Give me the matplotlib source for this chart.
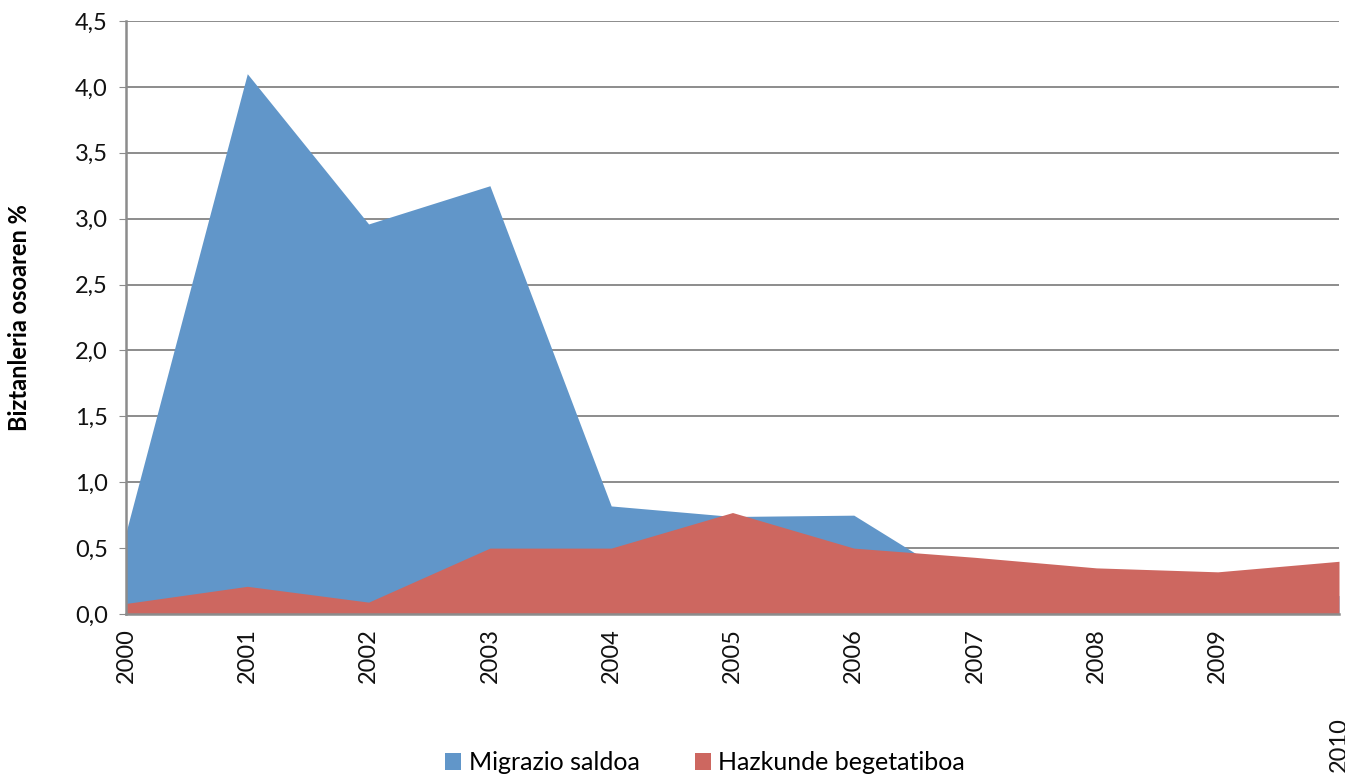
import matplotlib
matplotlib.use("Agg")
import matplotlib.pyplot as plt
from matplotlib.ticker import FixedLocator, FuncFormatter

years = [2000, 2001, 2002, 2003, 2004, 2005, 2006, 2007, 2008, 2009, 2010]
migrazio = [0.62, 4.10, 2.96, 3.25, 0.82, 0.74, 0.75, 0.18, 0.12, 0.10, 0.14]
hazkunde = [0.08, 0.21, 0.09, 0.50, 0.50, 0.77, 0.50, 0.43, 0.35, 0.32, 0.40]
yticks = [0.0, 0.5, 1.0, 1.5, 2.0, 2.5, 3.0, 3.5, 4.0, 4.5]
series_names = ["Migrazio saldoa", "Hazkunde begetatiboa"]
ylabel = "Biztanleria osoaren %"

blue = "#6196C9"
red = "#CD6760"
grid_c = "#8C8C8C"

plt.rcParams['font.family'] = ['Lato', 'DejaVu Sans']

fig = plt.figure(figsize=(13.45, 7.76), dpi=100)
ax = fig.add_axes([126/1345, 1 - 614/776, (1339-126)/1345, (614-21)/776])

ax.fill_between(years, 0, migrazio, color=blue, linewidth=0, zorder=2, label=series_names[0])
ax.fill_between(years, 0, hazkunde, color=red, linewidth=0, zorder=3, label=series_names[1])

ax.set_xlim(years[0], years[-1])
ax.set_ylim(yticks[0], yticks[-1])
ax.yaxis.set_major_locator(FixedLocator(yticks))
ax.yaxis.set_major_formatter(FuncFormatter(lambda v, p: f"{v:.1f}".replace(".", ",")))
ax.xaxis.set_major_locator(FixedLocator(years))
ax.set_xticklabels([str(y) for y in years], rotation=90, va='top', ha='center')

ax.grid(axis='y', color=grid_c, linewidth=1.4, zorder=1)
ax.set_axisbelow(True)
for s in ['top', 'right']:
    ax.spines[s].set_visible(False)
for s in ['left', 'bottom']:
    ax.spines[s].set_color(grid_c)
    ax.spines[s].set_linewidth(1.8)
    ax.spines[s].set_zorder(4)

ax.tick_params(axis='y', labelsize=17, length=5, color=grid_c, pad=8, labelcolor='#111111')
ax.tick_params(axis='x', labelsize=17, length=0, pad=10, labelcolor='#111111')
ax.set_ylabel(ylabel, fontsize=17, fontweight='bold')
ax.yaxis.set_label_coords(-0.078, 0.5)

fig.canvas.draw()
ticks = ax.xaxis.get_major_ticks()
ticks[-1].set_pad(74)

leg = fig.legend(loc='center', bbox_to_anchor=(705/1345, 1 - 763/776), ncol=2, frameon=False,
                 fontsize=18, handlelength=0.65, handleheight=0.65, handletextpad=0.3,
                 columnspacing=2.2)

fig.savefig("out.png", dpi=100)
